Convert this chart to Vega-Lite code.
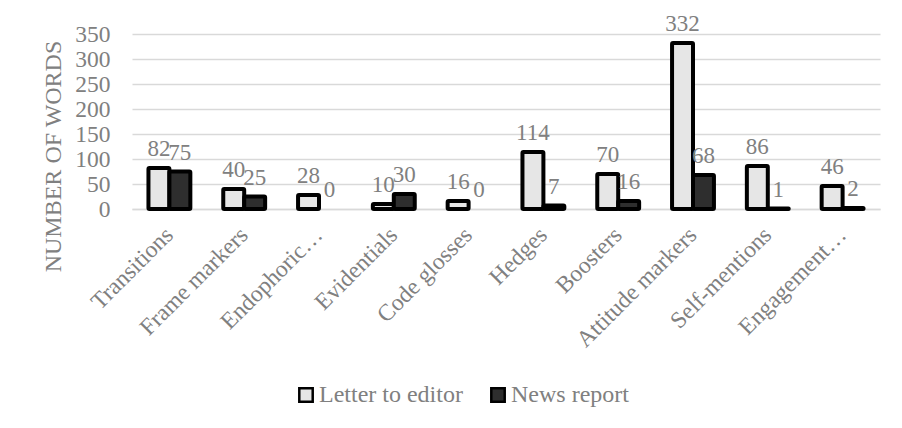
{
  "$schema": "https://vega.github.io/schema/vega-lite/v6.json",
  "width": 748,
  "height": 175,
  "autosize": {"type": "none"},
  "padding": {"left": 132, "top": 34, "right": 22, "bottom": 219},
  "background": "white",
  "config": {
    "font": "Liberation Serif",
    "view": {"stroke": null},
    "axis": {"labelFont": "Liberation Serif", "titleFont": "Liberation Serif", "labelColor": "#808080", "titleColor": "#808080"}
  },
  "data": {
    "values": [
      {"category": "Transitions", "series": "Letter to editor", "value": 82},
      {"category": "Transitions", "series": "News report", "value": 75},
      {"category": "Frame markers", "series": "Letter to editor", "value": 40},
      {"category": "Frame markers", "series": "News report", "value": 25},
      {"category": "Endophoric markers", "series": "Letter to editor", "value": 28},
      {"category": "Endophoric markers", "series": "News report", "value": 0},
      {"category": "Evidentials", "series": "Letter to editor", "value": 10},
      {"category": "Evidentials", "series": "News report", "value": 30},
      {"category": "Code glosses", "series": "Letter to editor", "value": 16},
      {"category": "Code glosses", "series": "News report", "value": 0},
      {"category": "Hedges", "series": "Letter to editor", "value": 114},
      {"category": "Hedges", "series": "News report", "value": 7},
      {"category": "Boosters", "series": "Letter to editor", "value": 70},
      {"category": "Boosters", "series": "News report", "value": 16},
      {"category": "Attitude markers", "series": "Letter to editor", "value": 332},
      {"category": "Attitude markers", "series": "News report", "value": 68},
      {"category": "Self-mentions", "series": "Letter to editor", "value": 86},
      {"category": "Self-mentions", "series": "News report", "value": 1},
      {"category": "Engagement markers", "series": "Letter to editor", "value": 46},
      {"category": "Engagement markers", "series": "News report", "value": 2}
    ]
  },
  "encoding": {
    "x": {
      "field": "category",
      "type": "nominal",
      "sort": null,
      "scale": {"paddingInner": 0.44, "paddingOuter": 0.22},
      "axis": {
        "title": null,
        "labelAngle": -45,
        "labelAlign": "right",
        "labelBaseline": "middle",
        "labelFontSize": 23.5,
        "labelPadding": 22,
        "labelOffset": 0,
        "labelLimit": 300,
        "labelExpr": "datum.label == 'Endophoric markers' ? 'Endophoric…' : (datum.label == 'Engagement markers' ? 'Engagement…' : datum.label)",
        "ticks": false,
        "domainColor": "#d9d9d9",
        "domainWidth": 1.5,
        "grid": false
      }
    },
    "xOffset": {"field": "series", "type": "nominal", "sort": ["Letter to editor", "News report"], "scale": {"domain": ["Letter to editor", "News report"]}},
    "y": {
      "field": "value",
      "type": "quantitative",
      "stack": null,
      "scale": {"domain": [0, 350], "nice": false},
      "axis": {
        "title": "NUMBER OF WORDS",
        "titleFontSize": 24,
        "titleFontWeight": "normal",
        "titlePadding": 9,
        "titleY": 122,
        "values": [0, 50, 100, 150, 200, 250, 300, 350],
        "labelFontSize": 23.5,
        "labelPadding": 22,
        "ticks": false,
        "domain": false,
        "gridColor": "#d9d9d9",
        "gridWidth": 1.5
      }
    }
  },
  "layer": [
    {
      "transform": [{"filter": "datum.value > 0"}],
      "mark": {"type": "bar", "stroke": "black", "strokeWidth": 4, "strokeJoin": "round", "cornerRadius": 1},
      "encoding": {
        "color": {
          "field": "series",
          "type": "nominal",
          "sort": ["Letter to editor", "News report"],
          "scale": {"domain": ["Letter to editor", "News report"], "range": ["#e6e6e6", "#2e2e2e"]},
          "legend": {
            "title": null,
            "orient": "none",
            "direction": "horizontal",
            "legendX": 162,
            "legendY": 349,
            "symbolType": "square",
            "symbolSize": 180,
            "symbolStrokeColor": "black",
            "symbolStrokeWidth": 2.5,
            "labelFontSize": 24,
            "labelColor": "#808080",
            "labelFont": "Liberation Serif",
            "labelOffset": 1,
            "columnPadding": 23
          }
        }
      }
    },
    {
      "mark": {"type": "text", "baseline": "alphabetic", "dy": -12, "fontSize": 23, "color": "#808080", "font": "Liberation Serif"},
      "encoding": {"text": {"field": "value", "type": "quantitative"}}
    }
  ]
}
